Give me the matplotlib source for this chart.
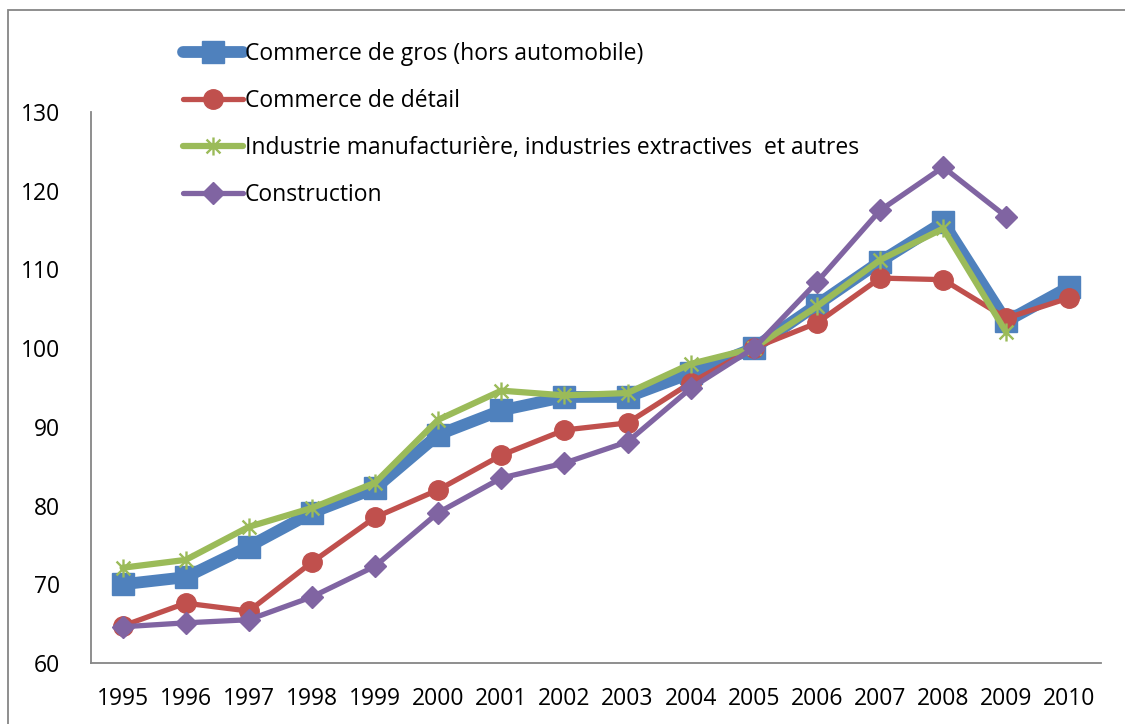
import numpy as np
import matplotlib
matplotlib.use("Agg")
import matplotlib.pyplot as plt
from matplotlib.path import Path
from matplotlib.patches import Rectangle

years = ["1995", "1996", "1997", "1998", "1999", "2000", "2001", "2002",
         "2003", "2004", "2005", "2006", "2007", "2008", "2009", "2010"]
gros = [70.0, 70.9, 74.8, 79.1, 82.2, 89.0, 92.1, 93.8, 93.8, 96.8, 100.0,
        105.5, 111.0, 116.0, 103.4, 107.8]
detail = [64.7, 67.6, 66.6, 72.8, 78.5, 82.0, 86.4, 89.6, 90.5, 95.6, 100.0,
          103.2, 108.9, 108.7, 103.8, 106.4]
industrie = [72.1, 73.1, 77.3, 79.7, 82.9, 90.9, 94.6, 94.0, 94.3, 98.0, 100.0,
             105.3, 111.2, 115.2, 102.0, np.nan]
construction = [64.6, 65.1, 65.5, 68.4, 72.3, 79.1, 83.5, 85.4, 88.1, 94.9, 100.0,
                108.4, 117.5, 123.0, 116.7, np.nan]
labels = ["Commerce de gros (hors automobile)", "Commerce de détail",
          "Industrie manufacturière, industries extractives  et autres",
          "Construction"]
yticks = [60, 70, 80, 90, 100, 110, 120, 130]

plt.rcParams['font.family'] = ['Open Sans', 'DejaVu Sans']

fig = plt.figure(figsize=(11.25, 7.24), dpi=100)
ax = fig.add_axes([91/1125, 1-663/724, (1101-91)/1125, (663-112)/724])

x = np.arange(len(years))
star = Path([(-1, -1), (1, 1), (-1, 1), (1, -1), (0, -1.3), (0, 1.3)],
            [Path.MOVETO, Path.LINETO, Path.MOVETO, Path.LINETO, Path.MOVETO, Path.LINETO])

ax.plot(x, gros, color='#4F81BD', lw=8.5, marker='s', ms=16, label=labels[0],
        solid_capstyle='round')
ax.plot(x, detail, color='#C0504D', lw=3.8, marker='o', ms=14, label=labels[1],
        solid_capstyle='round')
ax.plot(x, industrie, color='#9BBB59', lw=4.5, marker=star, ms=13, mew=1.7,
        mfc='none', mec='#9BBB59', label=labels[2], solid_capstyle='round')
ax.plot(x, construction, color='#8064A2', lw=3.8, marker='D', ms=11, label=labels[3],
        solid_capstyle='round')

ax.set_xlim(-0.5, len(years) - 0.5)
ax.set_ylim(60, 130)
ax.set_yticks(yticks)
ax.set_xticks(x)
ax.set_xticklabels(years)
ax.tick_params(length=0, labelsize=16.5, colors='black')
ax.tick_params(axis='y', pad=22)
ax.tick_params(axis='x', pad=17)
for s in ['top', 'right']:
    ax.spines[s].set_visible(False)
for s in ['left', 'bottom']:
    ax.spines[s].set_color('#868686')
    ax.spines[s].set_linewidth(1.3)

leg = ax.legend(loc='upper left', bbox_to_anchor=(183/1125, 1-42/724),
                bbox_transform=fig.transFigure, frameon=False,
                fontsize=16.5, handlelength=2.6, handletextpad=0.1,
                labelspacing=1.0, borderpad=0, borderaxespad=0)

fig.add_artist(Rectangle((8/1125, -0.2), 1.5, 1.2 - 10/724, transform=fig.transFigure,
                         fill=False, edgecolor='#868686', lw=1.3, clip_on=False))

fig.savefig('out.png', dpi=100, facecolor='white')
